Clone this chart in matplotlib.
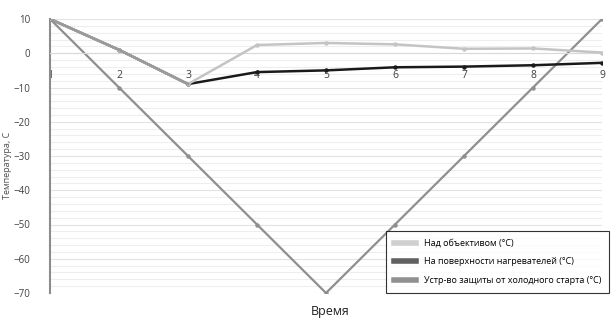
import matplotlib
matplotlib.use("Agg")
import matplotlib.pyplot as plt
from matplotlib.lines import Line2D
import numpy as np

x_labels = ["1", "2", "3", "4", "5", "6", "7", "8", "9"]
above_lens = [10, 1, -9, 2.4, 3.0, 2.6, 1.3, 1.4, 0.2]
heater_surface = [10, 1, -9, -5.5, -5.0, -4.1, -3.9, -3.5, -2.8]
cold_start = [10, -10, -30, -50, -70, -50, -30, -10, 10]
series_names = ["Над объективом (°C)", "На поверхности нагревателей (°C)",
                "Устр-во защиты от холодного старта (°C)"]

plt.rcParams['font.family'] = ['Open Sans', 'DejaVu Sans']

fig = plt.figure(figsize=(6.12, 3.27), dpi=100)
ax = fig.add_axes([50/612, 1-293/327, 552/612, 274/327])

x = np.arange(1, len(x_labels) + 1)

# grid
for v in np.arange(-70, 11, 2):
    ax.axhline(v, color='#eeeeee' if v % 10 else '#e3e3e3', lw=0.8, zorder=0)

ax.plot(x, cold_start, color='#8f8f8f', lw=1.6, marker='o', ms=2.2, zorder=2)
ax.plot(x, heater_surface, color='#1a1a1a', lw=1.8, marker='o', ms=2.2, zorder=3)
ax.plot(x, above_lens, color='#c4c4c4', lw=1.8, marker='o', ms=2.2, zorder=4)
ax.plot(x[:3], above_lens[:3], color='#9a9a9a', lw=1.8, zorder=5)

ax.set_xlim(1, 9)
ax.set_ylim(-70, 10)
ax.set_yticks(np.arange(-70, 11, 10))
ax.set_xticks(x)
ax.set_xticklabels(x_labels)

for s in ['top', 'right']:
    ax.spines[s].set_visible(False)
ax.spines['bottom'].set_position(('data', 0))
ax.spines['bottom'].set_color('#d9d9d9')
ax.spines['bottom'].set_linewidth(0.8)
ax.spines['left'].set_color('#8c8c8c')
ax.spines['left'].set_linewidth(1.5)
ax.tick_params(axis='both', length=0, labelsize=7, colors='#404040')
ax.tick_params(axis='x', pad=12, labelsize=7.5)
ax.tick_params(axis='y', pad=14)
ax.set_facecolor('none')

fig.text(8/612, 1-165/327, "Температура, С", rotation=90, fontsize=6.5,
         color='#505050', ha='center', va='center')
fig.text(330/612, 1-311/327, "Время", fontsize=9, color='#202020',
         ha='center', va='center')

handles = [Line2D([], [], color='#d0d0d0', lw=4),
           Line2D([], [], color='#606060', lw=4),
           Line2D([], [], color='#909090', lw=4)]
leg = ax.legend(handles, series_names, loc='upper left',
                bbox_to_anchor=((383-50)/552, (293-228)/274),
                fontsize=6.5, frameon=True, fancybox=False, handlelength=2.4,
                borderpad=0.9, labelspacing=1.05, handletextpad=0.9,
                borderaxespad=0.3)
leg.get_frame().set_edgecolor('black')
leg.get_frame().set_linewidth(0.8)
leg.set_zorder(10)

fig.savefig("out.png", dpi=100)
